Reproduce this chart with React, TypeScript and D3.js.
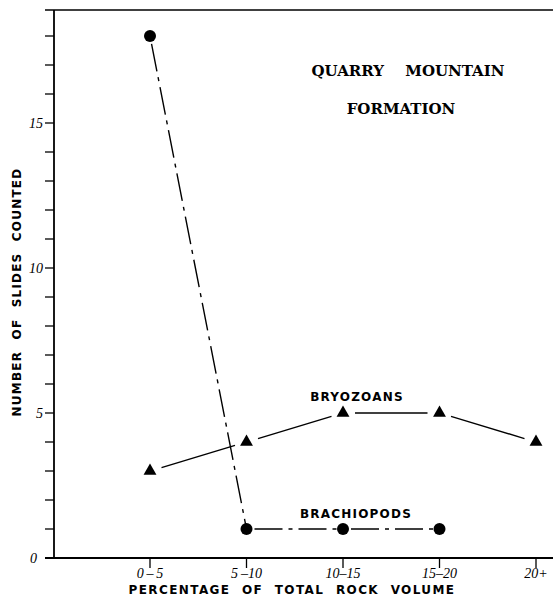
import React from "react";
import * as d3 from "d3";

const categories = ["0-5", "5-10", "10-15", "15-20", "20+"];
const tickLabels = ["0\u2009\u2013\u20095", "5\u2009\u201310", "10\u201315", "15\u201320", "20+"];
const bryozoans = [3, 4, 5, 5, 4];
const brachiopods = [18, 1, 1, 1];
const yMajor = [0, 5, 10, 15];
const yMinor = d3.range(0, 19);

const W = 553, H = 601;

function shorten(x1: number, y1: number, x2: number, y2: number, a: number, b: number) {
  const dx = x2 - x1, dy = y2 - y1;
  const L = Math.hypot(dx, dy);
  return [x1 + (dx / L) * a, y1 + (dy / L) * a, x2 - (dx / L) * b, y2 - (dy / L) * b];
}

export default function App() {
  const x = d3.scalePoint<string>().domain(categories).range([150, 536]);
  const y = d3.scaleLinear().domain([0, 5]).range([558, 413]);
  const axisX = 54, axisY = 558, topY = 10;

  const bryoPts = bryozoans.map((v, i) => [x(categories[i])!, y(v)]);
  const brachPts = brachiopods.map((v, i) => [x(categories[i])!, y(v)]);

  const tri = d3.symbol().type(d3.symbolTriangle).size(72);

  return (
    <svg width={W} height={H} style={{ position: "absolute", left: 0, top: 0, background: "#fff" }}>
      <rect width={W} height={H} fill="#fff" />
      {/* frame */}
      <line x1={45} x2={W} y1={topY} y2={topY} stroke="#000" strokeWidth={1.5} />
      <line x1={axisX} x2={axisX} y1={topY} y2={axisY} stroke="#000" strokeWidth={1.8} />
      <line x1={45} x2={W} y1={axisY} y2={axisY} stroke="#000" strokeWidth={1.8} />
      {/* y ticks */}
      {yMinor.map((v) => (
        <line key={v} x1={45} x2={axisX} y1={y(v)} y2={y(v)} stroke="#000" strokeWidth={1.3} />
      ))}
      {yMajor.map((v) => (
        <text key={v} x={v === 0 ? 37 : 43} y={y(v) + 5} textAnchor="end" fontFamily="Liberation Serif" fontStyle="italic" fontSize={14}>
          {v}
        </text>
      ))}
      {/* x ticks */}
      {categories.map((c, i) => (
        <g key={c}>
          <line x1={x(c)!} x2={x(c)!} y1={axisY} y2={axisY + 10} stroke="#000" strokeWidth={1.3} />
          <text x={x(c)!} y={axisY + 20} textAnchor="middle" fontFamily="Liberation Serif" fontStyle="italic" fontSize={14}>
            {tickLabels[i]}
          </text>
        </g>
      ))}
      {/* axis titles */}
      <text x={292} y={594} textAnchor="middle" fontFamily="DejaVu Sans" fontWeight="bold" fontSize={12} letterSpacing={1.4} wordSpacing={6}>
        PERCENTAGE OF TOTAL ROCK VOLUME
      </text>
      <text transform="translate(21,292) rotate(-90)" textAnchor="middle" fontFamily="DejaVu Sans" fontWeight="bold" fontSize={12} letterSpacing={1.2} wordSpacing={6}>
        NUMBER OF SLIDES COUNTED
      </text>
      {/* title */}
      <text x={408} y={76} textAnchor="middle" fontFamily="DejaVu Serif" fontWeight="bold" fontSize={15} wordSpacing={16}>
        QUARRY MOUNTAIN
      </text>
      <text x={401} y={114} textAnchor="middle" fontFamily="DejaVu Serif" fontWeight="bold" fontSize={15}>
        FORMATION
      </text>
      {/* series labels */}
      <text x={357} y={401} textAnchor="middle" fontFamily="DejaVu Sans" fontWeight="bold" fontSize={12} letterSpacing={1.2}>
        BRYOZOANS
      </text>
      <text x={356} y={518} textAnchor="middle" fontFamily="DejaVu Sans" fontWeight="bold" fontSize={12} letterSpacing={1.2}>
        BRACHIOPODS
      </text>
      {/* brachiopods lines */}
      {brachPts.slice(1).map((p, i) => {
        const q = brachPts[i];
        const [a, b, c, d] = shorten(q[0], q[1], p[0], p[1], 8, 5);
        return <line key={i} x1={a} y1={b} x2={c} y2={d} stroke="#000" strokeWidth={1.4} strokeDasharray="28,6,4,6" />;
      })}
      {/* bryozoans lines */}
      {bryoPts.slice(1).map((p, i) => {
        const q = bryoPts[i];
        const [a, b, c, d] = shorten(q[0], q[1], p[0], p[1], 12, 12);
        return <line key={i} x1={a} y1={b} x2={c} y2={d} stroke="#000" strokeWidth={1.4} />;
      })}
      {/* markers */}
      {brachPts.map((p, i) => (
        <circle key={i} cx={p[0]} cy={p[1]} r={6} fill="#000" />
      ))}
      {bryoPts.map((p, i) => (
        <path key={i} d={tri()!} transform={`translate(${p[0]},${p[1]})`} fill="#000" />
      ))}
    </svg>
  );
}
